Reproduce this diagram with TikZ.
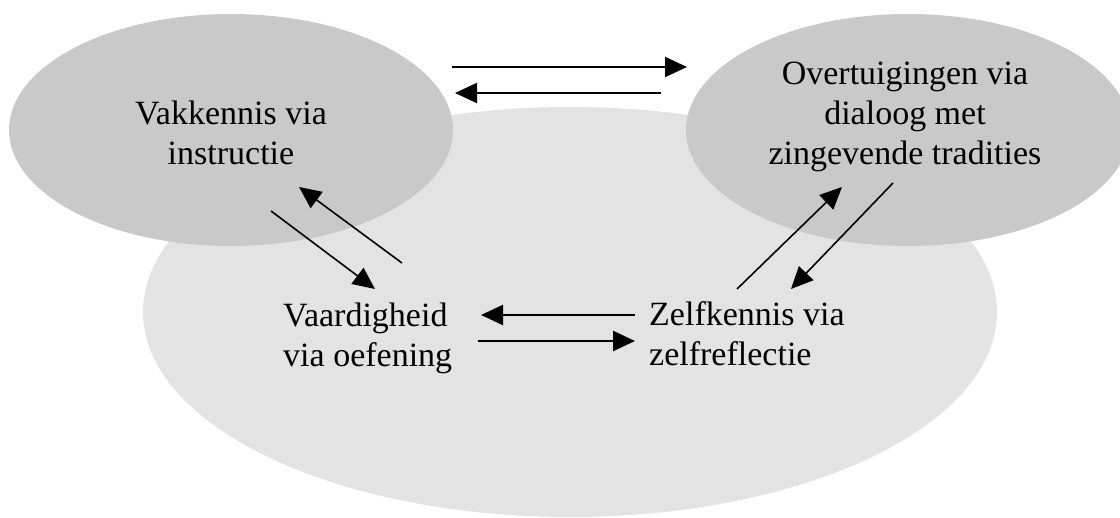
\documentclass[tikz,border=0pt]{standalone}
\usepackage{fontspec}
\setmainfont{Liberation Serif}
\usetikzlibrary{arrows.meta,shapes.geometric}
\definecolor{outergray}{RGB}{227,227,227}
\definecolor{innergray}{RGB}{201,201,201}
\begin{document}
\begin{tikzpicture}[x=1pt,y=-1pt,
  lbl/.style={font=\fontsize{34}{40}\selectfont, inner sep=0pt},
  blob/.style={ellipse, draw=none, inner sep=0pt},
  arr/.style={-{Triangle[length=22pt,width=20pt]}, line width=2pt},
  darr/.style={-{Triangle[length=22pt,width=20pt]}, line width=1.6pt}]
\useasboundingbox (0,0) rectangle (1120,518);
\node[blob, fill=outergray, minimum width=854pt, minimum height=410pt] (core) at (570,312) {};
\node[blob, fill=innergray, minimum width=444pt, minimum height=232pt] (vak) at (231,130) {};
\node[blob, fill=innergray, minimum width=444pt, minimum height=232pt] (over) at (908,130) {};
\node[lbl, align=center, anchor=base] (vaktxt) at (231,165) {Vakkennis via\\instructie};
\node[lbl, align=center, anchor=base] (overtxt) at (905,165) {Overtuigingen via\\dialoog met\\zingevende tradities};
\node[lbl, align=left, anchor=base west] (vaar) at (283,367) {Vaardigheid\\via oefening};
\node[lbl, align=left, anchor=base west] (zelf) at (649,366) {Zelfkennis via\\zelfreflectie};
\coordinate (t1s) at (452,67); \coordinate (t1e) at (687,67);
\coordinate (t2s) at (661,93); \coordinate (t2e) at (455,93);
\coordinate (l1s) at (402,263); \coordinate (l1e) at (299,187);
\coordinate (l2s) at (271,211); \coordinate (l2e) at (375,289);
\coordinate (m1s) at (635,315); \coordinate (m1e) at (481,315);
\coordinate (m2s) at (478,341); \coordinate (m2e) at (635,341);
\coordinate (r1s) at (737,289); \coordinate (r1e) at (842,187);
\coordinate (r2s) at (893,183); \coordinate (r2e) at (791,289);
\draw[arr] (t1s) -- (t1e);
\draw[arr] (t2s) -- (t2e);
\draw[darr] (l1s) -- (l1e);
\draw[darr] (l2s) -- (l2e);
\draw[arr] (m1s) -- (m1e);
\draw[arr, line width=2.4pt] (m2s) -- (m2e);
\draw[darr] (r1s) -- (r1e);
\draw[darr] (r2s) -- (r2e);
\end{tikzpicture}
\end{document}
